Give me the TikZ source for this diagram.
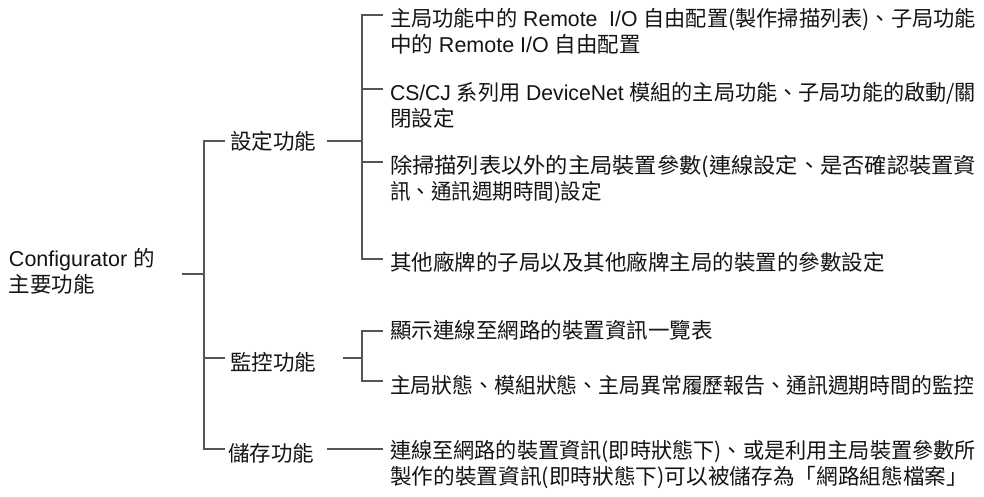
\documentclass[tikz,border=0pt]{standalone}
\usepackage{fontspec}
\usepackage{graphicx}
\setmainfont{Noto Sans CJK TC}
\newfontfamily\lat{Liberation Sans}
\definecolor{linec}{RGB}{85,85,85}
\definecolor{txtc}{RGB}{20,20,20}
\newcommand{\fsz}{\fontsize{21.5}{26}\selectfont}
\newcommand{\ml}[1]{\begin{tabular}[t]{@{}l@{}}#1\end{tabular}}
\newcommand{\fw}[2]{\resizebox{#1}{\height}{#2}}
\tikzset{
  lbl/.style={anchor=base west, inner sep=0pt, outer sep=0pt, text=txtc, font=\fsz},
  conn/.style={draw=linec, line width=1.8pt, line cap=butt, line join=miter}
}
\begin{document}
\begin{tikzpicture}[x=1pt,y=-1pt]
\useasboundingbox (0,0) rectangle (984,496);
\fill[white] (0,0) rectangle (984,496);

% ---- texts ----
\node[lbl] (root) at (9,266) {\ml{{\lat Configurator }的\\主要功能}};
\node[lbl] (set) at (230,149) {設定功能};
\node[lbl] (mon) at (230,370) {監控功能};
\node[lbl] (sto) at (228,461) {儲存功能};

\node[lbl] (s1) at (390,26) {\ml{\fw{586pt}{主局功能中的{\lat\ Remote\ \ I/O }自由配置(製作掃描列表)、子局功能}\\中的{\lat\ Remote I/O }自由配置}};
\node[lbl] (s2) at (390,100) {\ml{\fw{586pt}{{\lat CS/CJ }系列用{\lat\ DeviceNet }模組的主局功能、子局功能的啟動/關}\\閉設定}};
\node[lbl] (s3) at (390,173) {\ml{\fw{586pt}{除掃描列表以外的主局裝置參數(連線設定、是否確認裝置資}\\\fw{212pt}{訊、通訊週期時間)設定}}};
\node[lbl] (s4) at (390,270) {其他廠牌的子局以及其他廠牌主局的裝置的參數設定};
\node[lbl] (m1) at (390,338) {顯示連線至網路的裝置資訊一覽表};
\node[lbl] (m2) at (390,393) {\fw{584pt}{主局狀態、模組狀態、主局異常履歷報告、通訊週期時間的監控}};
\node[lbl] (t1) at (390,458) {\ml{\fw{586pt}{連線至網路的裝置資訊(即時狀態下)、或是利用主局裝置參數所}\\\fw{578pt}{製作的裝置資訊(即時狀態下)可以被儲存為「網路組態檔案」}}};

% ---- junction coordinates ----
\coordinate (rs) at (182,274);
\coordinate (mj) at (204,274);
\coordinate (mt) at (204,141);
\coordinate (mm) at (204,358);
\coordinate (mb) at (204,449);

\coordinate (sa) at (327,141);
\coordinate (sj) at (362,141);
\coordinate (st) at (362,15);
\coordinate (s2j) at (362,89);
\coordinate (s3j) at (362,162);
\coordinate (sb) at (362,259);

\coordinate (ma) at (343,358);
\coordinate (mj2) at (362,358);
\coordinate (mt2) at (362,331);
\coordinate (mb2) at (362,381);

\coordinate (ta) at (327,449);

% ---- connectors ----
\draw[conn] (rs) -- (mj);
\draw[conn] ([xshift=-5pt]mt -| set.west) -- (mt) -- (mb) -- ([xshift=-3pt]mb -| sto.west);
\draw[conn] (mm) -- ([xshift=-5pt]mm -| mon.west);

\draw[conn] (sa) -- (sj);
\draw[conn] ([xshift=-7pt]st -| s1.west) -- (st) -- (sb) -- ([xshift=-7pt]sb -| s4.west);
\draw[conn] (s2j) -- ([xshift=-7pt]s2j -| s2.west);
\draw[conn] (s3j) -- ([xshift=-7pt]s3j -| s3.west);

\draw[conn] (ma) -- (mj2);
\draw[conn] ([xshift=-7pt]mt2 -| m1.west) -- (mt2) -- (mb2) -- ([xshift=-7pt]mb2 -| m2.west);

\draw[conn] (ta) -- ([xshift=-7pt]ta -| t1.west);
\end{tikzpicture}
\end{document}
